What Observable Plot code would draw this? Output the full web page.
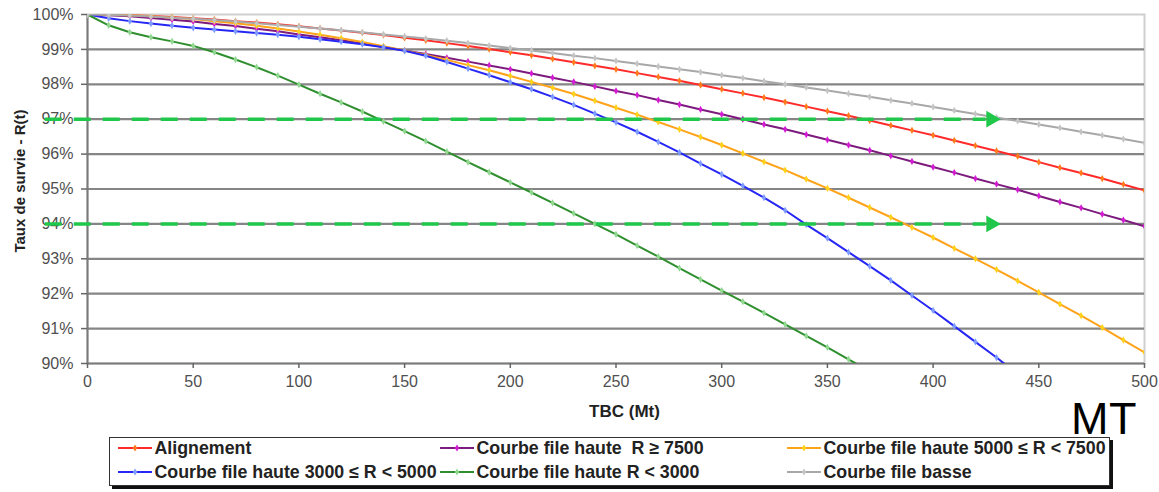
<!DOCTYPE html>
<html>
<head>
<meta charset="utf-8">
<script src="https://cdn.jsdelivr.net/npm/d3@7"></script>
<script src="https://cdn.jsdelivr.net/npm/@observablehq/plot@0.6"></script>
<style>
  html, body { margin: 0; padding: 0; background: #fff; }
  body { font-family: "Liberation Sans", Arial, sans-serif; }
  #wrap { position: relative; width: 1159px; height: 492px; overflow: hidden; background: #fff; }
  #chart { position: absolute; left: 0; top: 0; }
  #legend { position: absolute; left: 109px; top: 437px; width: 1001px; height: 49px;
            border: 1.5px solid #333; box-shadow: 3px 3px 0 #111; background: #fff; box-sizing: border-box; }
  .item { position: absolute; height: 20px; display: flex; align-items: center;
          font-weight: bold; font-size: 17.8px; color: #222; white-space: pre; }
  .item svg { display: block; margin-right: 3px; }
  #mt { position: absolute; left: 1071px; top: 396px; font-size: 45px; line-height: 45px; color: #000;
        font-family: "Liberation Sans", Arial, sans-serif; letter-spacing: 0.5px; }
</style>
</head>
<body>
<div id="wrap">
  <div id="chart"></div>
  <div id="legend"></div>
  <div id="mt"></div>
</div>
<script>
// ---------- data ----------
const tbc = [0, 10, 20, 30, 40, 50, 60, 70, 80, 90, 100, 110, 120, 130, 140, 150, 160, 170, 180, 190, 200,
  210, 220, 230, 240, 250, 260, 270, 280, 290, 300, 310, 320, 330, 340, 350, 360, 370, 380, 390, 400,
  410, 420, 430, 440, 450, 460, 470, 480, 490, 500];

const alignement = [100, 99.99, 99.98, 99.96, 99.93, 99.89, 99.86, 99.81, 99.77, 99.72, 99.66, 99.60, 99.54, 99.48,
  99.41, 99.33, 99.26, 99.18, 99.10, 99.01, 98.92, 98.83, 98.73, 98.63, 98.53, 98.43, 98.32, 98.21, 98.10,
  97.98, 97.86, 97.74, 97.62, 97.49, 97.36, 97.23, 97.10, 96.96, 96.82, 96.68, 96.54, 96.39, 96.24, 96.09,
  95.94, 95.77, 95.61, 95.46, 95.30, 95.13, 94.96];

const hauteSup7500 = [100, 99.98, 99.95, 99.90, 99.85, 99.80, 99.73, 99.67, 99.59, 99.52, 99.43, 99.35, 99.26, 99.17,
  99.07, 98.97, 98.87, 98.76, 98.65, 98.54, 98.43, 98.31, 98.19, 98.07, 97.94, 97.81, 97.69, 97.55, 97.42,
  97.28, 97.14, 97.00, 96.85, 96.71, 96.56, 96.41, 96.26, 96.11, 95.95, 95.79, 95.63, 95.47, 95.30, 95.14,
  94.98, 94.80, 94.63, 94.46, 94.28, 94.11, 93.93];

const haute5000_7500 = [100, 99.99, 99.98, 99.95, 99.91, 99.87, 99.81, 99.75, 99.68, 99.60, 99.51, 99.42, 99.32, 99.21,
  99.09, 98.97, 98.84, 98.70, 98.55, 98.40, 98.24, 98.07, 97.90, 97.72, 97.53, 97.33, 97.13, 96.92, 96.71,
  96.49, 96.26, 96.02, 95.78, 95.54, 95.28, 95.02, 94.75, 94.47, 94.19, 93.90, 93.61, 93.30, 93.00, 92.69,
  92.37, 92.04, 91.70, 91.37, 91.03, 90.67, 90.32];

const haute3000_5000 = [100, 99.89, 99.81, 99.74, 99.68, 99.62, 99.57, 99.52, 99.47, 99.42, 99.36, 99.29, 99.22, 99.15,
  99.06, 98.96, 98.82, 98.64, 98.45, 98.26, 98.06, 97.86, 97.64, 97.41, 97.16, 96.91, 96.64, 96.35, 96.05,
  95.73, 95.42, 95.09, 94.75, 94.39, 93.98, 93.59, 93.19, 92.79, 92.38, 91.95, 91.52, 91.07, 90.62, 90.17, 89.70];

const hauteInf3000 = [100, 99.69, 99.49, 99.35, 99.23, 99.10, 98.92, 98.71, 98.49, 98.25, 97.99, 97.73, 97.48, 97.22,
  96.94, 96.66, 96.37, 96.07, 95.77, 95.48, 95.19, 94.90, 94.60, 94.30, 94.00, 93.70, 93.38, 93.06, 92.73,
  92.41, 92.09, 91.77, 91.45, 91.12, 90.79, 90.46, 90.12, 89.78];

const basse = [100, 99.99, 99.97, 99.94, 99.91, 99.88, 99.84, 99.80, 99.75, 99.70, 99.65, 99.60, 99.55, 99.49,
  99.43, 99.37, 99.31, 99.25, 99.18, 99.11, 99.04, 98.97, 98.90, 98.82, 98.75, 98.67, 98.59, 98.51, 98.43,
  98.35, 98.26, 98.18, 98.09, 98.00, 97.91, 97.82, 97.73, 97.64, 97.54, 97.45, 97.35, 97.25, 97.15, 97.05,
  96.95, 96.85, 96.75, 96.64, 96.54, 96.43, 96.32];

const seriesNames = ["Alignement", "Courbe file haute  R \u2265 7500", "Courbe file haute 5000 \u2264 R < 7500",
  "Courbe file haute 3000 \u2264 R < 5000", "Courbe file haute R < 3000", "Courbe file basse"];
const seriesValues = [alignement, hauteSup7500, haute5000_7500, haute3000_5000, hauteInf3000, basse];

const xTicks = [0, 50, 100, 150, 200, 250, 300, 350, 400, 450, 500];
const yTicks = [90, 91, 92, 93, 94, 95, 96, 97, 98, 99, 100];
const gridLevels = [91, 92, 93, 94, 95, 96, 97, 98, 99];

// reference (target) levels drawn as dashed arrows
const arrowLevels = [97, 94];
const arrowStart = -20;
const arrowShaftEnd = 425;
const arrowTip = 432;

const xTitle = "TBC (Mt)";
const yTitle = "Taux de survie - R(t)";
const unitNote = "MT";

// ---------- styles ----------
const lineColors = ["#ff2b2b", "#7d1a7d", "#ffa31a", "#2727f5", "#2f8f2f", "#a8a8a8"];
const markerColors = ["#ff7a1a", "#d41bd4", "#ffd21a", "#7e9cff", "#90d890", "#c4c4c4"];
const drawOrder = [0, 1, 2, 3, 4, 5];
const arrowColor = "#1fc84a";
const font = "Liberation Sans, Arial, sans-serif";

// ---------- build ----------
const rows = seriesValues.flatMap((vals, i) => vals.map((v, j) => ({t: tbc[j], v, s: i})));

const seriesMarks = drawOrder.flatMap(i => {
  const data = rows.filter(d => d.s === i);
  return [
    Plot.line(data, {x: "t", y: "v", stroke: lineColors[i], strokeWidth: 2, clip: true}),
    Plot.dot(data, {x: "t", y: "v", symbol: "diamond", r: 2.2, fill: markerColors[i], stroke: "none", clip: true})
  ];
});

const chart = Plot.plot({
  width: 1159,
  height: 430,
  marginLeft: 87,
  marginRight: 15,
  marginTop: 14,
  marginBottom: 67,
  style: {fontFamily: font, background: "#fff", overflow: "visible"},
  x: {domain: [0, 500]},
  y: {domain: [90, 100]},
  marks: [
    Plot.frame({stroke: "#cfcfcf", strokeWidth: 2}),
    Plot.ruleY(gridLevels, {stroke: "#858585", strokeWidth: 2.2}),
    Plot.ruleX([0], {stroke: "#7a7a7a", strokeWidth: 2}),
    Plot.ruleY([90], {stroke: "#7a7a7a", strokeWidth: 2}),
    Plot.axisX({ticks: xTicks, tickSize: 5, tickPadding: 7, fontSize: 16, fill: "#4f4f4f", stroke: "#666", strokeWidth: 1.5, label: null}),
    Plot.axisY({ticks: yTicks, tickFormat: d => d + "%", tickSize: 6, tickPadding: 8, fontSize: 16, fill: "#4f4f4f", stroke: "#666", strokeWidth: 1.5, label: null}),
    ...seriesMarks,
    Plot.ruleY(arrowLevels, {x1: arrowStart, x2: arrowShaftEnd, stroke: arrowColor, strokeWidth: 3.5, strokeDasharray: "17 12"}),
    Plot.dot(arrowLevels, {x: arrowTip, y: d => d, symbol: "triangle", rotate: 90, r: 6.2, fill: arrowColor, stroke: "none", dx: -9.6}),
    Plot.text([xTitle], {frameAnchor: "bottom", textAnchor: "middle", lineAnchor: "middle", dx: 8.5, dy: 48.5, fontSize: 17, fontWeight: "bold", fill: "#222"}),
    Plot.text([yTitle], {frameAnchor: "left", textAnchor: "middle", lineAnchor: "middle", dx: -67, dy: -8, rotate: -90, fontSize: 15, fontWeight: "bold", fill: "#222"})
  ]
});
document.getElementById("chart").appendChild(chart);

// ---------- legend ----------
const legendLayout = [
  {i: 0, left: 7.5, top: 0},
  {i: 1, left: 329.5, top: 0},
  {i: 2, left: 676.5, top: 0},
  {i: 3, left: 7.5, top: 24},
  {i: 4, left: 329.5, top: 24},
  {i: 5, left: 676.5, top: 24}
];
const legend = document.getElementById("legend");
legendLayout.forEach(({i, left, top}) => {
  const item = document.createElement("div");
  item.className = "item";
  item.style.left = left + "px";
  item.style.top = top + "px";
  item.innerHTML =
    `<svg width="34" height="10" viewBox="0 0 34 10">` +
    `<line x1="0" y1="5" x2="34" y2="5" stroke="${lineColors[i]}" stroke-width="2"/>` +
    `<path d="M17 1.4 L19.2 5 L17 8.6 L14.8 5 Z" fill="${markerColors[i]}"/></svg>`;
  const span = document.createElement("span");
  span.textContent = seriesNames[i];
  item.appendChild(span);
  legend.appendChild(item);
});
document.getElementById("mt").textContent = unitNote;
</script>
</body>
</html>
